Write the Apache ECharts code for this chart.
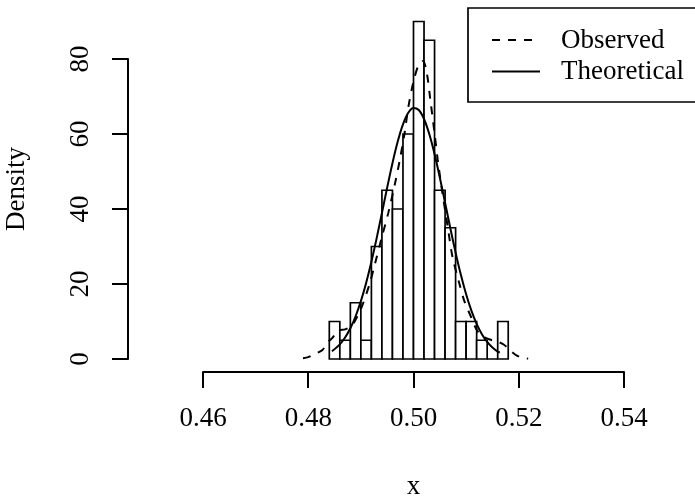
<!DOCTYPE html>
<html><head><meta charset="utf-8">
<script src="https://cdn.jsdelivr.net/npm/echarts@6/dist/echarts.min.js"></script>
<style>html,body{margin:0;padding:0;background:#fff}#c{width:695px;height:496px}</style>
</head><body><div id="c"></div>
<script>
// Histogram (density scale)
const breaks = [0.484,0.486,0.488,0.490,0.492,0.494,0.496,0.498,0.500,0.502,0.504,0.506,0.508,0.510,0.512,0.514,0.516,0.518];
const densities = [10,5,15,5,30,45,40,60,90,85,45,35,10,10,5,0,10];

// Observed (kernel density, dashed)
const obsX = [0.4790,0.4800,0.4815,0.4827,0.4835,0.4845,0.4858,0.4870,0.4882,0.4892,0.4902,0.4917,0.4927,0.4940,0.4952,0.4965,0.4974,0.4983,0.4990,0.5000,0.5010,0.5018,0.5025,0.5032,0.5040,0.5046,0.5055,0.5065,0.5074,0.5087,0.5096,0.5110,0.5120,0.5130,0.5145,0.5160,0.5172,0.5183,0.5193,0.5205,0.5218];
const obsY = [0.2,0.5,1.5,2.4,4.2,5.5,7.6,7.9,8.8,11.0,14.0,20.2,25.5,32.6,38.9,46.9,53.1,60.2,67.0,74.0,78.5,79.5,76.5,69.1,60.2,53.1,44.2,35.3,27.3,20.2,15.7,11.0,7.8,6.2,5.2,4.6,3.8,2.4,1.2,0.4,0.1];

// Theoretical (normal curve, solid)
const theoX = [0.4845,0.486,0.487,0.488,0.489,0.490,0.491,0.492,0.493,0.494,0.495,0.496,0.497,0.498,0.499,0.500,0.501,0.502,0.503,0.504,0.505,0.506,0.507,0.508,0.509,0.510,0.511,0.512,0.513,0.514,0.515,0.516,0.5164];
const theoY = [2.06,3.89,5.72,8.19,11.40,15.42,20.28,25.92,32.23,38.93,45.73,52.21,57.98,62.57,65.65,66.96,66.40,64.00,59.98,54.64,48.39,41.66,34.87,28.37,22.45,17.26,12.91,9.38,6.62,4.55,3.04,1.97,1.75];

const xTicks = [0.46, 0.48, 0.50, 0.52, 0.54];
const yTicks = [0, 20, 40, 60, 80];
const legendLabels = ['Observed', 'Theoretical'];
const xTitle = 'x';
const yTitle = 'Density';

const FONT = '"Liberation Serif","Times New Roman",serif';
const FS = 27;

const histData = densities.map((d, i) => [breaks[i], breaks[i + 1], d]);
const obsData = obsX.map((x, i) => [x, obsY[i]]);
const theoData = theoX.map((x, i) => [x, theoY[i]]);

const chart = echarts.init(document.getElementById('c'), null, {renderer: 'canvas'});
chart.setOption({
  animation: false,
  backgroundColor: '#fff',
  grid: {left: 203, right: 71, top: 59, bottom: 137, containLabel: false},
  xAxis: {
    type: 'value', min: xTicks[0], max: xTicks[xTicks.length - 1], interval: 0.02,
    offset: 13,
    splitLine: {show: false},
    axisLine: {show: true, onZero: false, lineStyle: {color: '#000', width: 2}},
    axisTick: {show: true, length: 16, lineStyle: {color: '#000', width: 2}},
    axisLabel: {color: '#000', fontFamily: FONT, fontSize: FS, lineHeight: 27, margin: 33,
      formatter: v => v.toFixed(2)}
  },
  yAxis: {
    type: 'value', min: yTicks[0], max: yTicks[yTicks.length - 1], interval: 20,
    offset: 75,
    splitLine: {show: false},
    axisLine: {show: true, onZero: false, lineStyle: {color: '#000', width: 2}},
    axisTick: {show: true, length: 16, lineStyle: {color: '#000', width: 2}},
    axisLabel: {color: '#000', fontFamily: FONT, fontSize: FS, lineHeight: 27, margin: 34, rotate: 90,
      formatter: v => String(v)}
  },
  series: [
    {
      type: 'custom', clip: false, data: histData,
      encode: {x: [0, 1], y: 2},
      renderItem: function (params, api) {
        const p0 = api.coord([api.value(0), 0]);
        const p1 = api.coord([api.value(1), api.value(2)]);
        return {
          type: 'rect',
          shape: {x: p0[0], y: p1[1], width: p1[0] - p0[0], height: p0[1] - p1[1]},
          style: {fill: '#fff', stroke: '#000', lineWidth: 1.7}
        };
      }
    },
    {
      name: legendLabels[0], type: 'line', data: obsData, symbol: 'none', smooth: 0.3, clip: false,
      lineStyle: {color: '#000', width: 2, type: [8, 8]}, z: 3
    },
    {
      name: legendLabels[1], type: 'line', data: theoData, symbol: 'none', smooth: 0.3, clip: false,
      lineStyle: {color: '#000', width: 2, type: 'solid'}, z: 3
    }
  ],
  graphic: [
    {type: 'text', x: 16.6, y: 189, rotation: Math.PI / 2,
      style: {text: yTitle, font: FS + 'px ' + FONT, fill: '#000', align: 'center', verticalAlign: 'middle'}},
    {type: 'text', x: 413.5, y: 487,
      style: {text: xTitle, font: FS + 'px ' + FONT, fill: '#000', align: 'center', verticalAlign: 'middle'}},
    {type: 'rect', shape: {x: 468, y: 8, width: 240, height: 94},
      style: {fill: '#fff', stroke: '#000', lineWidth: 1.7}, z: 10},
    {type: 'line', shape: {x1: 492, y1: 40, x2: 540, y2: 40},
      style: {stroke: '#000', lineWidth: 2, lineDash: [8, 8]}, z: 11},
    {type: 'line', shape: {x1: 492, y1: 71.5, x2: 540, y2: 71.5},
      style: {stroke: '#000', lineWidth: 2}, z: 11},
    {type: 'text', x: 561, y: 40.5, z: 11,
      style: {text: legendLabels[0], font: FS + 'px ' + FONT, fill: '#000', align: 'left', verticalAlign: 'middle'}},
    {type: 'text', x: 561, y: 71.5, z: 11,
      style: {text: legendLabels[1], font: FS + 'px ' + FONT, fill: '#000', align: 'left', verticalAlign: 'middle'}}
  ]
});
</script>
</body></html>
